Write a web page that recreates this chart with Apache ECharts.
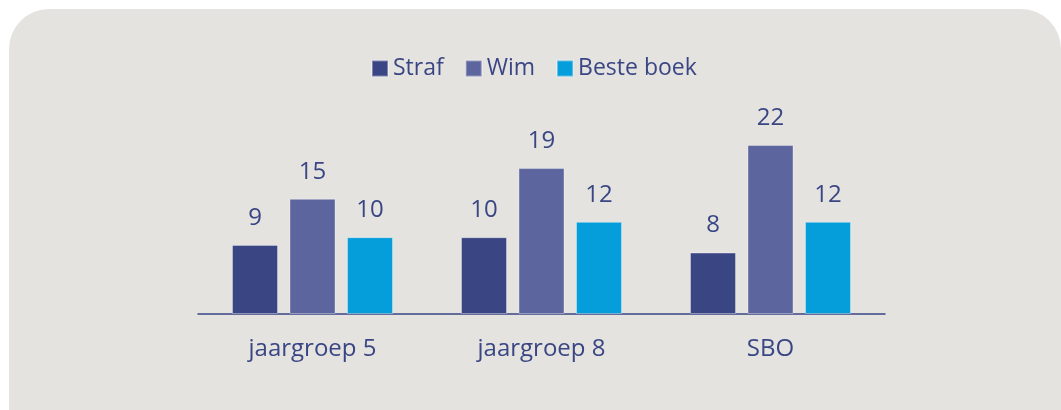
<!DOCTYPE html>
<html>
<head>
<meta charset="utf-8">
<script src="https://cdn.jsdelivr.net/npm/echarts@6/dist/echarts.min.js"></script>
<style>
  html, body { margin: 0; padding: 0; background: #ffffff; }
  #chart { width: 1061px; height: 410px; }
</style>
</head>
<body>
<div id="chart"></div>
<script>
// data
const categories = ['jaargroep 5', 'jaargroep 8', 'SBO']
const seriesNames = ['Straf', 'Wim', 'Beste boek']
const straf = [9, 10, 8]
const wim = [15, 19, 22]
const besteBoek = [10, 12, 12]

const colors = ['#3a4684', '#5c659d', '#069ddb']
const textColor = '#3a4684'
const font = '"Open Sans", "Noto Sans", sans-serif'

const chart = echarts.init(document.getElementById('chart'))

const makeSeries = (name, data, i) => ({
  name: name,
  type: 'bar',
  data: data,
  barWidth: 46,
  barGap: '25%',
  itemStyle: {
    color: colors[i],
    borderColor: 'rgba(255,255,255,0.35)',
    borderWidth: 1
  },
  label: {
    show: true,
    position: 'top',
    distance: 15,
    color: textColor,
    fontSize: 24,
    fontFamily: font
  }
})

const option = {
  backgroundColor: '#ffffff',
  graphic: [{
    type: 'rect',
    z: -10,
    silent: true,
    shape: { x: 9, y: 9, width: 1052, height: 420, r: [40, 40, 0, 0] },
    style: { fill: '#e4e3e0' }
  }],
  legend: {
    top: 52,
    left: 366,
    itemWidth: 16,
    itemHeight: 16,
    itemGap: 21,
    icon: 'rect',
    textStyle: { color: textColor, fontSize: 23, fontFamily: font },
    data: seriesNames
  },
  grid: {
    left: 198,
    right: 176,
    top: 122,
    bottom: 96
  },
  xAxis: {
    type: 'category',
    data: categories,
    axisTick: { show: false },
    axisLine: { lineStyle: { color: '#3a4684', width: 1.5 } },
    axisLabel: { color: textColor, fontSize: 24, fontFamily: font, margin: 23 }
  },
  yAxis: {
    type: 'value',
    min: 0,
    max: 25,
    show: false,
    splitLine: { show: false }
  },
  series: [
    makeSeries(seriesNames[0], straf, 0),
    makeSeries(seriesNames[1], wim, 1),
    makeSeries(seriesNames[2], besteBoek, 2)
  ]
}

chart.setOption(option)
</script>
</body>
</html>
